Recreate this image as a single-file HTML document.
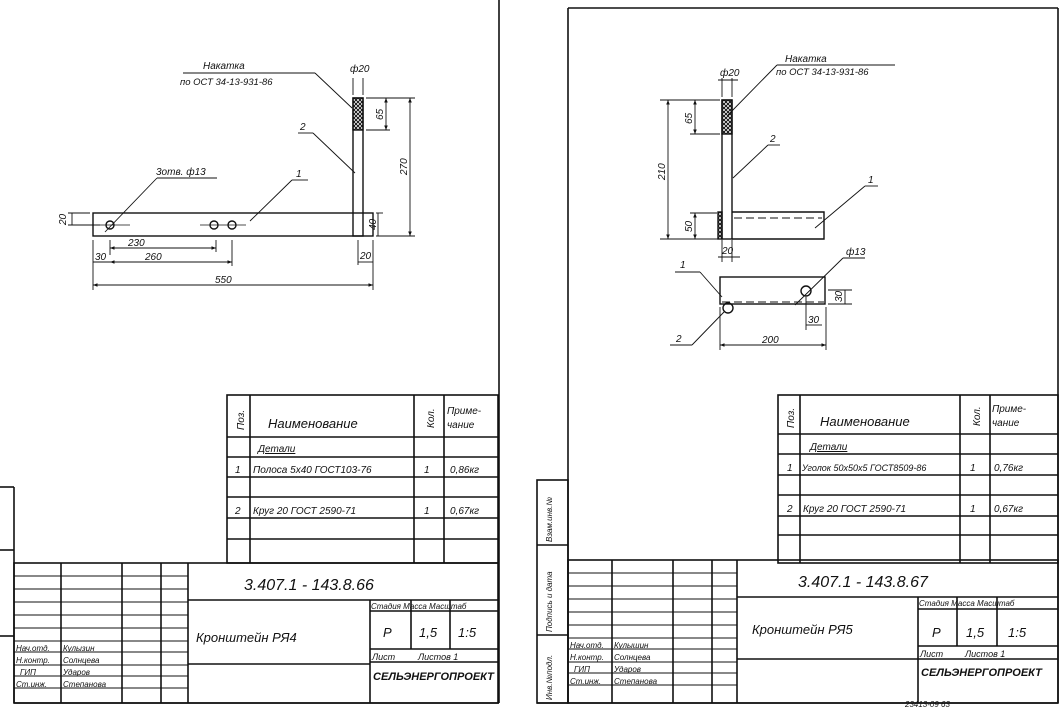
<!DOCTYPE html>
<html><head><meta charset="utf-8"><style>
html,body{margin:0;padding:0;background:#fff}
svg{display:block}
text{font-family:"Liberation Sans",sans-serif;fill:#111;font-style:italic}
</style></head><body>
<svg width="1060" height="709" viewBox="0 0 1060 709" xmlns="http://www.w3.org/2000/svg">
<defs>
<pattern id="kn" width="4" height="4" patternUnits="userSpaceOnUse"><path d="M0 0L4 4M4 0L0 4" stroke="#111" stroke-width="1"/></pattern>
<marker id="a" markerWidth="6" markerHeight="6" refX="5" refY="3" orient="auto-start-reverse"><path d="M0 1L5 3L0 5" fill="#111"/></marker>
</defs>
<g stroke="#111" fill="none" stroke-width="1.6">
<!-- left sheet borders -->
<line x1="499" y1="0" x2="499" y2="703"/>
<line x1="14" y1="487" x2="14" y2="703"/>
<line x1="14" y1="703" x2="499" y2="703"/>
<line x1="0" y1="487" x2="14" y2="487"/><line x1="0" y1="550" x2="14" y2="550"/><line x1="0" y1="636" x2="14" y2="636"/>
<!-- right sheet border -->
<line x1="568" y1="8" x2="1058" y2="8"/>
<line x1="568" y1="8" x2="568" y2="703"/>
<line x1="1058" y1="8" x2="1058" y2="703"/>
<line x1="537" y1="703" x2="1058" y2="703"/>
<rect x="537" y="480" width="31" height="223"/>
<line x1="537" y1="545" x2="568" y2="545"/><line x1="537" y1="635" x2="568" y2="635"/>
</g>

<!-- LEFT DRAWING -->
<g stroke="#111" fill="none" stroke-width="1.4">
<rect x="93" y="213" width="280" height="23"/>
<rect x="353" y="98" width="10" height="138"/>
<rect x="353" y="98" width="10" height="32" fill="url(#kn)"/>
<circle cx="110" cy="225" r="4"/><circle cx="214" cy="225" r="4"/><circle cx="232" cy="225" r="4"/>
<line x1="100" y1="225" x2="130" y2="225" stroke-width="0.8"/><line x1="200" y1="225" x2="246" y2="225" stroke-width="0.8"/>
<g stroke-width="0.9">
<line x1="110" y1="240" x2="110" y2="255"/><line x1="216" y1="240" x2="216" y2="252"/><line x1="232" y1="240" x2="232" y2="266"/>
<line x1="93" y1="240" x2="93" y2="290"/><line x1="373" y1="240" x2="373" y2="290"/><line x1="358" y1="240" x2="358" y2="265"/>
<line x1="110" y1="248" x2="216" y2="248" marker-start="url(#a)" marker-end="url(#a)"/>
<line x1="110" y1="262" x2="232" y2="262" marker-start="url(#a)" marker-end="url(#a)"/>
<line x1="93" y1="262" x2="110" y2="262"/>
<line x1="93" y1="285" x2="373" y2="285" marker-start="url(#a)" marker-end="url(#a)"/>
<line x1="358" y1="262" x2="373" y2="262"/>
<line x1="366" y1="98" x2="415" y2="98"/><line x1="366" y1="130" x2="390" y2="130"/><line x1="376" y1="236" x2="415" y2="236"/><line x1="376" y1="213" x2="383" y2="213"/>
<line x1="410" y1="98" x2="410" y2="236" marker-start="url(#a)" marker-end="url(#a)"/>
<line x1="386" y1="98" x2="386" y2="130" marker-start="url(#a)" marker-end="url(#a)"/>
<line x1="378" y1="213" x2="378" y2="236"/>
<line x1="68" y1="213" x2="90" y2="213"/><line x1="68" y1="225" x2="100" y2="225"/><line x1="72" y1="213" x2="72" y2="225"/>
<line x1="353" y1="78" x2="353" y2="95"/><line x1="363" y1="78" x2="363" y2="95"/>
<line x1="183" y1="73" x2="315" y2="73"/><line x1="315" y1="73" x2="352" y2="108"/>
<line x1="105" y1="232" x2="157" y2="178"/><line x1="157" y1="178" x2="217" y2="178"/>
<line x1="250" y1="221" x2="292" y2="180"/><line x1="292" y1="180" x2="308" y2="180"/>
<line x1="355" y1="173" x2="313" y2="133"/><line x1="298" y1="133" x2="313" y2="133"/>
</g>
</g>
<g font-size="10">
<text x="203" y="69">Накатка</text>
<text x="180" y="85" font-size="9.5">по ОСТ 34-13-931-86</text>
<text x="350" y="72">ф20</text>
<text x="156" y="175">3отв. ф13</text>
<text x="296" y="177">1</text>
<text x="300" y="130">2</text>
<text x="128" y="246">230</text>
<text x="145" y="260">260</text>
<text x="95" y="260">30</text>
<text x="215" y="283">550</text>
<text x="360" y="259">20</text>
<text transform="translate(407,175) rotate(-90)">270</text>
<text transform="translate(383,120) rotate(-90)">65</text>
<text transform="translate(376,230) rotate(-90)">40</text>
<text transform="translate(66,225) rotate(-90)">20</text>
</g>

<!-- RIGHT DRAWING -->
<g stroke="#111" fill="none" stroke-width="1.4">
<rect x="722" y="100" width="10" height="139"/>
<rect x="722" y="100" width="10" height="34" fill="url(#kn)"/>
<rect x="718" y="212" width="4" height="27" fill="url(#kn)"/>
<path d="M732 212H824V239H732"/>
<line x1="734" y1="218" x2="822" y2="218" stroke-dasharray="8 4" stroke-width="1"/>
<rect x="720" y="277" width="105" height="27"/>
<line x1="722" y1="302" x2="824" y2="302" stroke-dasharray="8 4" stroke-width="1"/>
<circle cx="806" cy="291" r="5"/><circle cx="728" cy="308" r="5"/>
<g stroke-width="0.9">
<line x1="668" y1="100" x2="668" y2="239" marker-start="url(#a)" marker-end="url(#a)"/>
<line x1="660" y1="100" x2="720" y2="100"/><line x1="660" y1="239" x2="720" y2="239"/>
<line x1="695" y1="100" x2="695" y2="134" marker-start="url(#a)" marker-end="url(#a)"/><line x1="690" y1="134" x2="720" y2="134"/>
<line x1="695" y1="213" x2="695" y2="239" marker-start="url(#a)" marker-end="url(#a)"/><line x1="690" y1="213" x2="717" y2="213"/>
<line x1="722" y1="240" x2="722" y2="262"/><line x1="732" y1="240" x2="732" y2="262"/><line x1="718" y1="257" x2="740" y2="257"/>
<line x1="722" y1="78" x2="722" y2="97"/><line x1="732" y1="78" x2="732" y2="97"/><line x1="718" y1="80" x2="738" y2="80"/>
<line x1="720" y1="307" x2="720" y2="350"/><line x1="826" y1="307" x2="826" y2="350"/>
<line x1="720" y1="345" x2="826" y2="345" marker-start="url(#a)" marker-end="url(#a)"/>
<line x1="806" y1="297" x2="806" y2="330"/><line x1="806" y1="325" x2="822" y2="325"/>
<line x1="828" y1="290" x2="852" y2="290"/><line x1="828" y1="304" x2="852" y2="304"/><line x1="845" y1="290" x2="845" y2="304"/>
<line x1="728" y1="115" x2="777" y2="65"/><line x1="777" y1="65" x2="895" y2="65"/>
<line x1="733" y1="178" x2="768" y2="145"/><line x1="768" y1="145" x2="780" y2="145"/>
<line x1="815" y1="228" x2="865" y2="186"/><line x1="865" y1="186" x2="878" y2="186"/>
<line x1="795" y1="305" x2="843" y2="258"/><line x1="843" y1="258" x2="865" y2="258"/>
<line x1="675" y1="272" x2="700" y2="272"/><line x1="700" y1="272" x2="722" y2="297"/>
<line x1="670" y1="345" x2="692" y2="345"/><line x1="692" y1="345" x2="724" y2="312"/>
</g>
</g>
<g font-size="10">
<text x="785" y="62">Накатка</text>
<text x="776" y="75" font-size="9.5">по ОСТ 34-13-931-86</text>
<text x="720" y="76">ф20</text>
<text x="770" y="142">2</text>
<text x="868" y="183">1</text>
<text x="846" y="255">ф13</text>
<text x="680" y="268">1</text>
<text x="676" y="342">2</text>
<text x="762" y="343">200</text>
<text x="808" y="323">30</text>
<text transform="translate(842,302) rotate(-90)">30</text>
<text x="722" y="254">20</text>
<text transform="translate(665,180) rotate(-90)">210</text>
<text transform="translate(692,124) rotate(-90)">65</text>
<text transform="translate(692,232) rotate(-90)">50</text>
</g>

<!-- SPEC TABLES & TITLE BLOCKS -->
<g id="sheetL">
<g stroke="#111" fill="none" stroke-width="1.6">
<rect x="227" y="395" width="271" height="168"/>
<line x1="250" y1="395" x2="250" y2="563"/><line x1="414" y1="395" x2="414" y2="563"/><line x1="444" y1="395" x2="444" y2="563"/>
<line x1="227" y1="437" x2="498" y2="437"/><line x1="227" y1="457" x2="498" y2="457"/><line x1="227" y1="477" x2="498" y2="477"/>
<line x1="227" y1="497" x2="498" y2="497"/><line x1="227" y1="518" x2="498" y2="518"/><line x1="227" y1="539" x2="498" y2="539"/>
<rect x="14" y="563" width="484" height="140"/>
<line x1="188" y1="563" x2="188" y2="703"/>
<line x1="188" y1="600" x2="498" y2="600"/>
<line x1="370" y1="600" x2="370" y2="703"/>
<line x1="370" y1="611" x2="498" y2="611"/>
<line x1="411" y1="600" x2="411" y2="649"/><line x1="450" y1="600" x2="450" y2="649"/>
<line x1="370" y1="649" x2="498" y2="649"/><line x1="370" y1="662" x2="498" y2="662"/>
<line x1="188" y1="664" x2="370" y2="664"/>
<line x1="61" y1="563" x2="61" y2="703"/><line x1="122" y1="563" x2="122" y2="703"/><line x1="161" y1="563" x2="161" y2="703"/>
</g>
<g stroke="#111" stroke-width="1.1">
<line x1="14" y1="576" x2="188" y2="576"/><line x1="14" y1="589" x2="188" y2="589"/><line x1="14" y1="602" x2="188" y2="602"/>
<line x1="14" y1="615" x2="188" y2="615"/><line x1="14" y1="628" x2="188" y2="628"/><line x1="14" y1="641" x2="188" y2="641"/>
<line x1="14" y1="652" x2="188" y2="652"/><line x1="14" y1="665" x2="188" y2="665"/><line x1="14" y1="676" x2="188" y2="676"/><line x1="14" y1="688" x2="188" y2="688"/>
</g>
</g>
<g font-size="13">
<text transform="translate(244,430) rotate(-90)" font-size="10">Поз.</text>
<text x="268" y="428">Наименование</text>
<text transform="translate(434,428) rotate(-90)" font-size="10">Кол.</text>
<text x="447" y="414" font-size="10">Приме-</text><text x="447" y="428" font-size="10">чание</text>
<text x="258" y="452" font-size="10" text-decoration="underline">Детали</text>
<text x="235" y="473" font-size="10">1</text><text x="253" y="473" font-size="10">Полоса 5х40 ГОСТ103-76</text><text x="424" y="473" font-size="10">1</text><text x="450" y="473" font-size="10">0,86кг</text>
<text x="235" y="514" font-size="10">2</text><text x="253" y="514" font-size="10">Круг 20 ГОСТ 2590-71</text><text x="424" y="514" font-size="10">1</text><text x="450" y="514" font-size="10">0,67кг</text>
<text x="244" y="590" font-size="16">3.407.1 - 143.8.66</text>
<text x="196" y="642" font-size="13">Кронштейн РЯ4</text>
<text x="371" y="609" font-size="8">Стадия Масса Масштаб</text>
<text x="383" y="637">Р</text><text x="419" y="637">1,5</text><text x="458" y="637">1:5</text>
<text x="372" y="660" font-size="9">Лист</text><text x="418" y="660" font-size="9">Листов 1</text>
<text x="373" y="680" font-size="11" font-style="normal" font-weight="bold">СЕЛЬЭНЕРГОПРОЕКТ</text>
<g font-size="8"><text x="16" y="651">Нач.отд.</text><text x="63" y="651">Кулызин</text>
<text x="16" y="663">Н.контр.</text><text x="63" y="663">Солнцева</text>
<text x="20" y="675">ГИП</text><text x="63" y="675">Ударов</text>
<text x="16" y="687">Ст.инж.</text><text x="63" y="687">Степанова</text></g>
</g>

<g stroke="#111" fill="none" stroke-width="1.6">
<rect x="778" y="395" width="280" height="168"/>
<line x1="800" y1="395" x2="800" y2="563"/><line x1="960" y1="395" x2="960" y2="563"/><line x1="990" y1="395" x2="990" y2="563"/>
<line x1="778" y1="434" x2="1058" y2="434"/><line x1="778" y1="454" x2="1058" y2="454"/><line x1="778" y1="475" x2="1058" y2="475"/>
<line x1="778" y1="495" x2="1058" y2="495"/><line x1="778" y1="516" x2="1058" y2="516"/><line x1="778" y1="535" x2="1058" y2="535"/>
<rect x="568" y="560" width="490" height="143"/>
<line x1="737" y1="560" x2="737" y2="703"/>
<line x1="737" y1="597" x2="1058" y2="597"/>
<line x1="918" y1="597" x2="918" y2="703"/>
<line x1="918" y1="609" x2="1058" y2="609"/>
<line x1="957" y1="597" x2="957" y2="646"/><line x1="997" y1="597" x2="997" y2="646"/>
<line x1="918" y1="646" x2="1058" y2="646"/><line x1="918" y1="659" x2="1058" y2="659"/>
<line x1="737" y1="659" x2="918" y2="659"/>
<line x1="612" y1="560" x2="612" y2="703"/><line x1="673" y1="560" x2="673" y2="703"/><line x1="712" y1="560" x2="712" y2="703"/>
</g>
<g stroke="#111" stroke-width="1.1">
<line x1="568" y1="573" x2="737" y2="573"/><line x1="568" y1="586" x2="737" y2="586"/><line x1="568" y1="599" x2="737" y2="599"/>
<line x1="568" y1="612" x2="737" y2="612"/><line x1="568" y1="625" x2="737" y2="625"/><line x1="568" y1="638" x2="737" y2="638"/>
<line x1="568" y1="649" x2="737" y2="649"/><line x1="568" y1="662" x2="737" y2="662"/><line x1="568" y1="673" x2="737" y2="673"/><line x1="568" y1="685" x2="737" y2="685"/>
</g>
<g font-size="13">
<text transform="translate(794,428) rotate(-90)" font-size="10">Поз.</text>
<text x="820" y="426">Наименование</text>
<text transform="translate(980,426) rotate(-90)" font-size="10">Кол.</text>
<text x="992" y="412" font-size="10">Приме-</text><text x="992" y="426" font-size="10">чание</text>
<text x="810" y="450" font-size="10" text-decoration="underline">Детали</text>
<text x="787" y="471" font-size="10">1</text><text x="802" y="471" font-size="9">Уголок 50х50х5 ГОСТ8509-86</text><text x="970" y="471" font-size="10">1</text><text x="994" y="471" font-size="10">0,76кг</text>
<text x="787" y="512" font-size="10">2</text><text x="803" y="512" font-size="10">Круг 20 ГОСТ 2590-71</text><text x="970" y="512" font-size="10">1</text><text x="994" y="512" font-size="10">0,67кг</text>
<text x="798" y="587" font-size="16">3.407.1 - 143.8.67</text>
<text x="752" y="634" font-size="13">Кронштейн РЯ5</text>
<text x="919" y="606" font-size="8">Стадия Масса Масштаб</text>
<text x="932" y="637">Р</text><text x="966" y="637">1,5</text><text x="1008" y="637">1:5</text>
<text x="920" y="657" font-size="9">Лист</text><text x="965" y="657" font-size="9">Листов 1</text>
<text x="921" y="676" font-size="11" font-style="normal" font-weight="bold">СЕЛЬЭНЕРГОПРОЕКТ</text>
<g font-size="8"><text x="570" y="648">Нач.отд.</text><text x="614" y="648">Кулышин</text>
<text x="570" y="660">Н.контр.</text><text x="614" y="660">Солнцева</text>
<text x="574" y="672">ГИП</text><text x="614" y="672">Ударов</text>
<text x="570" y="684">Ст.инж.</text><text x="614" y="684">Степанова</text></g>
<g font-size="8"><text transform="translate(552,700) rotate(-90)">Инв.№подл.</text>
<text transform="translate(552,632) rotate(-90)">Подпись и дата</text>
<text transform="translate(552,542) rotate(-90)">Взам.инв.№</text></g>
<text x="905" y="707" font-size="8">23413-09    63</text>
</g>
</svg>
</body></html>
